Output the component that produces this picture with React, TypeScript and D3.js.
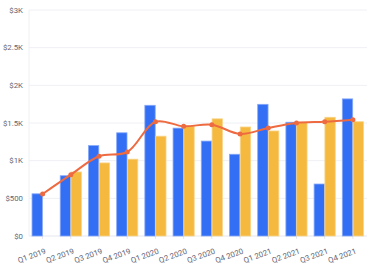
import React from "react";
import * as d3 from "d3";

const categories = ["Q1 2019","Q2 2019","Q3 2019","Q4 2019","Q1 2020","Q2 2020","Q3 2020","Q4 2020","Q1 2021","Q2 2021","Q3 2021","Q4 2021"];
const seriesA = [560, 800, 1200, 1370, 1735, 1432, 1260, 1085, 1748, 1510, 690, 1820];
const seriesB: (number | null)[] = [null, 850, 970, 1020, 1325, 1460, 1555, 1447, 1394, 1505, 1576, 1517];
const lineValues = [557, 814, 1058, 1115, 1517, 1456, 1478, 1355, 1434, 1500, 1517, 1544];
const yTicks = [0, 500, 1000, 1500, 2000, 2500, 3000];
const yTickLabels = ["$0", "$500", "$1K", "$1.5K", "$2K", "$2.5K", "$3K"];

const W = 372, H = 265;
const margin = { left: 29, right: 5, top: 10, bottom: 29 };

export default function App() {
  const x0 = d3.scaleBand<string>().domain(categories).range([margin.left - 0.5, W - margin.right]).paddingInner(0.25).paddingOuter(0.125);
  const x1 = d3.scaleBand<string>().domain(["a", "b"]).range([0, x0.bandwidth()]).paddingInner(0.04);
  const y = d3.scaleLinear().domain([0, 3000]).range([H - margin.bottom, margin.top]);
  const cx = (c: string) => (x0(c) as number) + x0.bandwidth() / 2;
  const line = d3.line<number>().x((_, i) => cx(categories[i])).y((d) => y(d)).curve(d3.curveCatmullRom.alpha(0.5));
  const font = "Roboto, sans-serif";
  const gray = "#5f6576";
  return (
    <svg width={W} height={H} style={{ position: "absolute", left: 0, top: 0 }}>
      <rect width={W} height={H} fill="#fff" />
      {yTicks.map((t, i) => (
        <g key={t}>
          {i > 0 && <line x1={margin.left} x2={W - margin.right} y1={y(t)} y2={y(t)} stroke="#eff0f5" strokeWidth={1} />}
          <text x={23} y={y(t)} dy="0.35em" textAnchor="end" fontSize={7.8} fontFamily={font} fill={gray}>{yTickLabels[i]}</text>
        </g>
      ))}
      <line x1={margin.left} x2={margin.left} y1={margin.top} y2={y(0)} stroke="#eff0f5" />
      <line x1={margin.left} x2={W - margin.right} y1={y(0)} y2={y(0)} stroke="#e6e7ee" />
      {categories.map((c) => (
        <g key={c}>
          <line x1={cx(c)} x2={cx(c)} y1={y(0)} y2={y(0) + 3} stroke="#e6e7ee" />
          <text transform={`translate(${cx(c) + 2},${y(0) + 12}) rotate(-20)`} textAnchor="end" dy="0.71em" fontSize={7.8} fontFamily={font} fill={gray}>{c}</text>
        </g>
      ))}
      {categories.map((c, i) => (
        <g key={"bars" + c}>
          <rect x={(x0(c) as number) + (x1("a") as number)} width={x1.bandwidth()} y={y(seriesA[i])} height={y(0) - y(seriesA[i])} fill="#326ff5" stroke="#86a8f8" strokeWidth={0.8} />
          {seriesB[i] != null && (
            <rect x={(x0(c) as number) + (x1("b") as number)} width={x1.bandwidth()} y={y(seriesB[i] as number)} height={y(0) - y(seriesB[i] as number)} fill="#f5b940" stroke="#f8d488" strokeWidth={0.8} />
          )}
        </g>
      ))}
      <path d={line(lineValues) || ""} fill="none" stroke="#ee6a40" strokeWidth={2} />
      {lineValues.map((v, i) => (
        <circle key={i} cx={cx(categories[i])} cy={y(v)} r={2.5} fill="#ee6a40" />
      ))}
    </svg>
  );
}
